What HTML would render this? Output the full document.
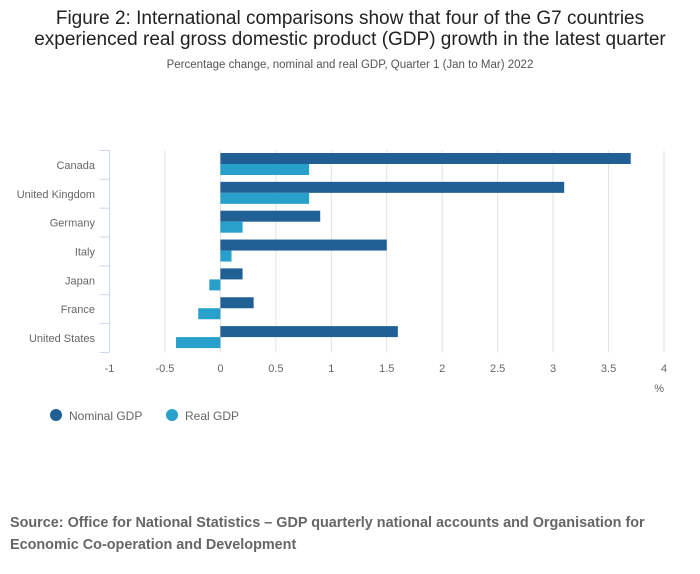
<!DOCTYPE html>
<html><head><meta charset="utf-8"><style>
body{margin:0;background:#fff;font-family:"Liberation Sans","DejaVu Sans",sans-serif;}
#wrap{position:relative;width:700px;height:574px;overflow:hidden}
</style></head><body>
<div id="wrap">
<svg id="chart" width="700" height="574" style="position:absolute;left:0;top:0">
<text x="350" y="24" text-anchor="middle" font-size="19" fill="#222">Figure 2: International comparisons show that four of the G7 countries</text>
<text x="350" y="45" text-anchor="middle" font-size="19" fill="#222">experienced real gross domestic product (GDP) growth in the latest quarter</text>
<text x="350" y="68" text-anchor="middle" font-size="11.5" fill="#555">Percentage change, nominal and real GDP, Quarter 1 (Jan to Mar) 2022</text>
<g id="grid"></g><g id="bars"></g><g id="axes"></g>
<text x="664" y="392" text-anchor="end" font-size="11" fill="#666">%</text>
<circle cx="56" cy="415" r="6" fill="#206095"/>
<text x="69" y="420" font-size="12" fill="#666">Nominal GDP</text>
<circle cx="172" cy="415" r="6" fill="#27a0cc"/>
<text x="185" y="420" font-size="12" fill="#666">Real GDP</text>
<text x="10" y="527" font-size="14.4" font-weight="bold" fill="#666">Source: Office for National Statistics – GDP quarterly national accounts and Organisation for</text>
<text x="10" y="549" font-size="14.4" font-weight="bold" fill="#666">Economic Co-operation and Development</text>
</svg>
</div>
<script>
const categories=["Canada","United Kingdom","Germany","Italy","Japan","France","United States"];
const nominal=[3.7,3.1,0.9,1.5,0.2,0.3,1.6];
const real=[0.8,0.8,0.2,0.1,-0.1,-0.2,-0.4];
const xTicks=[-1,-0.5,0,0.5,1,1.5,2,2.5,3,3.5,4];
const NS="http://www.w3.org/2000/svg";
const plotX0=109.5,plotX1=664,plotTop=150.5,bandH=28.85;
const xs=v=>plotX0+(v+1)/5*(plotX1-plotX0);
const band=i=>plotTop+i*bandH;
function mk(t,a,p){const e=document.createElementNS(NS,t);for(const k in a)e.setAttribute(k,a[k]);p.appendChild(e);return e;}
const gG=document.getElementById('grid'),gB=document.getElementById('bars'),gA=document.getElementById('axes');
const plotBottom=band(categories.length);
xTicks.forEach(t=>{
 if(t!==-1){const l=mk('line',{x1:xs(t),x2:xs(t),y1:plotTop,y2:plotBottom,stroke:'#e2e2e2','stroke-width':1},gG);
 
 }
 const tx=mk('text',{x:xs(t),y:372,'text-anchor':'middle','font-size':11,fill:'#666'},gA);
 tx.textContent=String(t);
 
 
});
const al=mk('line',{x1:plotX0,x2:plotX0,y1:plotTop,y2:plotBottom,stroke:'#ccd6eb','stroke-width':1},gA);


for(let i=0;i<=categories.length;i++){
 const tk=mk('line',{x1:plotX0-10,x2:plotX0,y1:band(i),y2:band(i),stroke:'#ccd6eb','stroke-width':1},gA);
 
 
}
categories.forEach((c,i)=>{
 const y=band(i);
 const lb=mk('text',{x:95,y:y+bandH/2+4,'text-anchor':'end','font-size':11,fill:'#666'},gA);
 lb.textContent=c;
 
 
 [[nominal[i],'#206095',2.5],[real[i],'#27a0cc',13.5]].forEach(([v,col,off],k)=>{
  const xa=Math.min(xs(0),xs(v)),w=Math.abs(xs(v)-xs(0));
  const r=mk('rect',{x:xa,y:y+off,width:w,height:11,fill:col},gB);
  
  
 });
});
</script>
</body></html>
